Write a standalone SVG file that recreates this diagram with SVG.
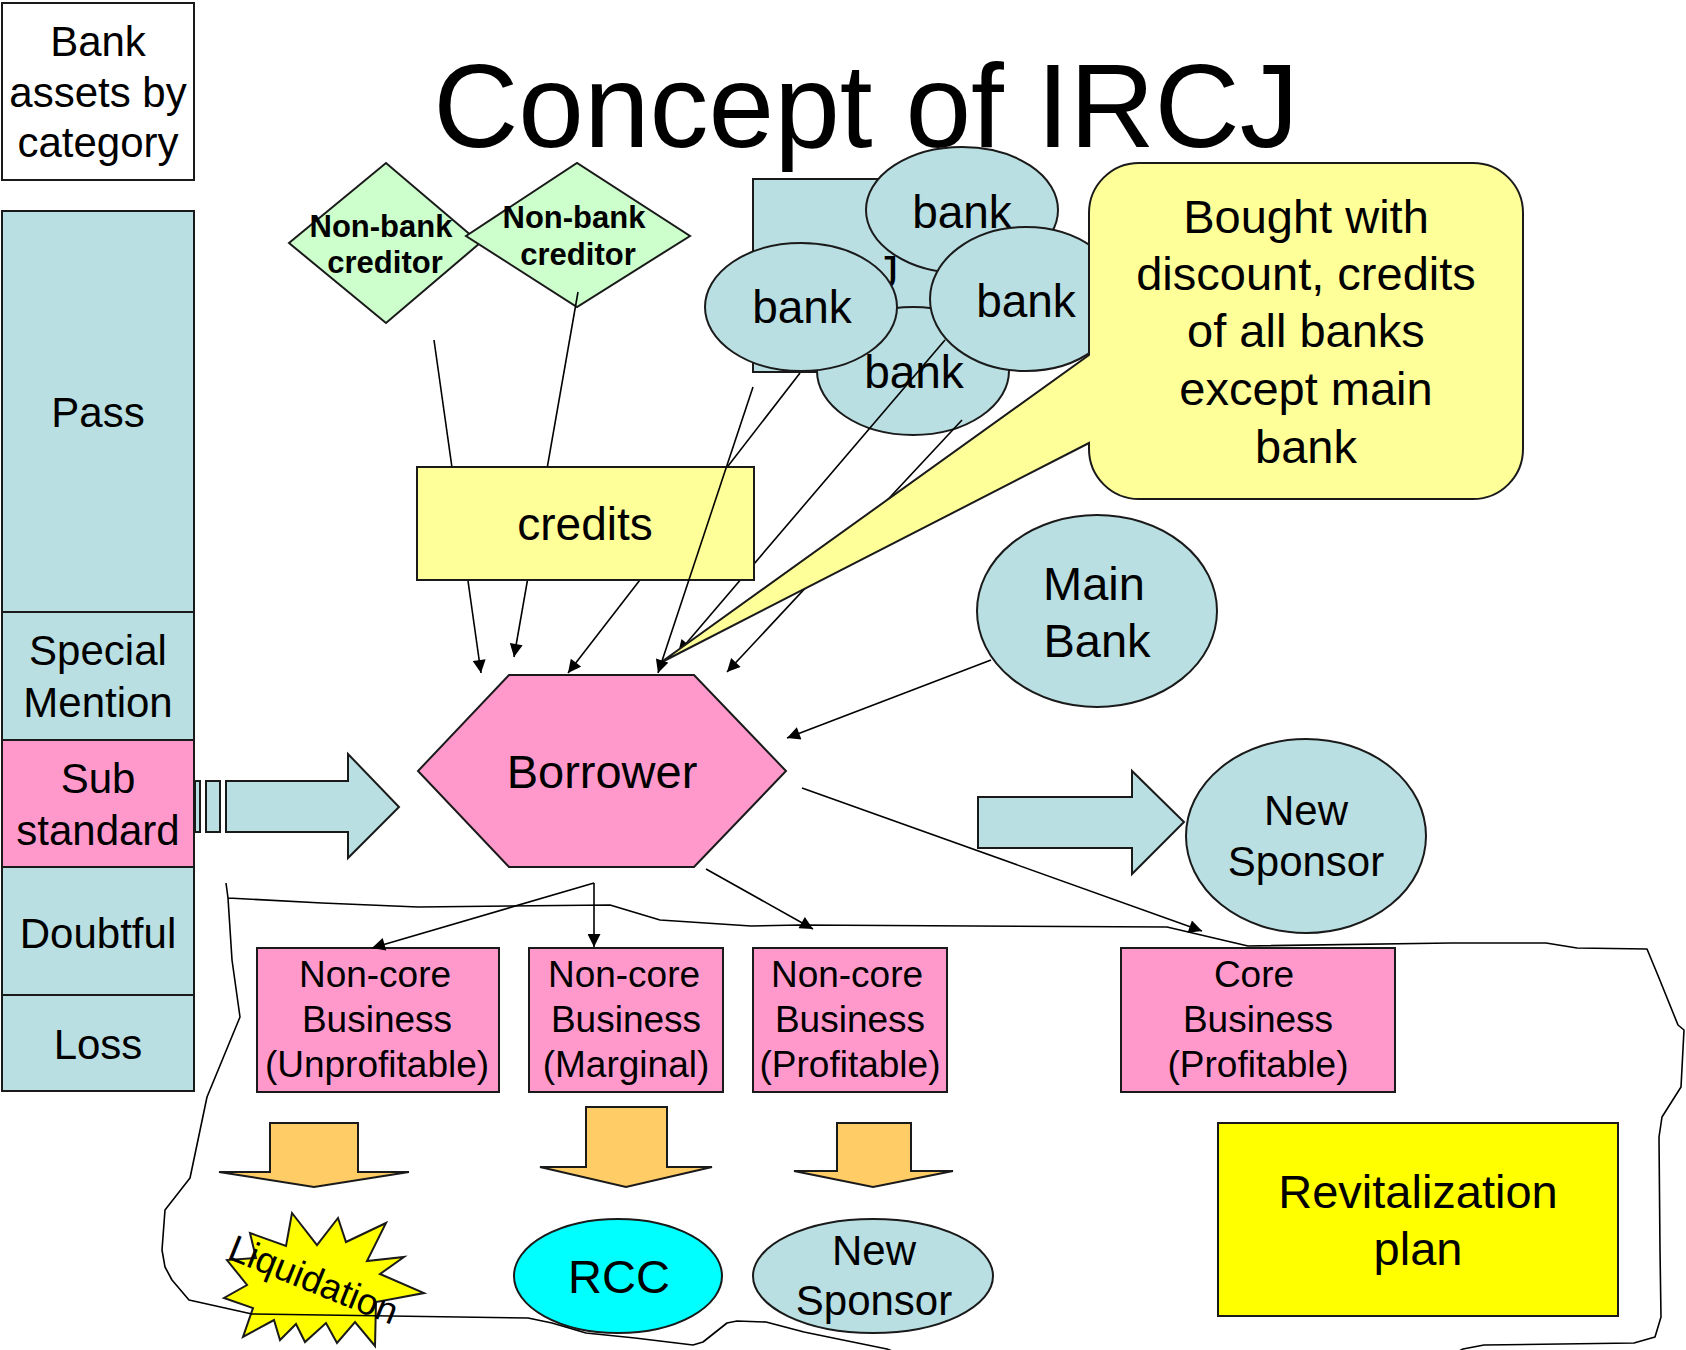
<svg xmlns="http://www.w3.org/2000/svg" width="1686" height="1350" viewBox="0 0 1686 1350">
  <defs>
    <style>
      text { font-family: "Liberation Sans", Arial, sans-serif; fill: #000; text-anchor: middle; }
      .node { stroke: #1a1a1a; stroke-width: 2; }
      .blue { fill: #B9DFE2; }
      .pink { fill: #FF99CC; }
      .cream { fill: #FFFF99; }
      .green { fill: #CCFFCC; }
      .orange { fill: #FFCC66; }
      .yellow { fill: #FFFF00; }
      .cyan { fill: #00FFFF; }
      .white { fill: #FFFFFF; }
      .conn { fill: none; stroke: #000; stroke-width: 1.6; }
      .arr { marker-end: url(#head); }
      .boundary { fill: none; stroke: #000; stroke-width: 1.6; stroke-linejoin: round; }
      .t42 { font-size: 42px; }
      .t46 { font-size: 46px; }
      .t47 { font-size: 47px; }
      .t37 { font-size: 37px; }
      .bold { font-weight: bold; font-size: 31px; }
    </style>
    <marker id="head" viewBox="0 0 10 10" refX="10" refY="5" markerWidth="15" markerHeight="13" markerUnits="userSpaceOnUse" orient="auto">
      <path d="M0,0 L10,5 L0,10 z" fill="#000"/>
    </marker>
  </defs>

  <!-- title -->
  <text id="title" x="866" y="147" style="font-size:118px">Concept of IRCJ</text>

  <!-- asset classification column -->
  <g id="legend">
    <rect class="node white" x="2" y="3" width="192" height="177"/>
    <text class="t42" x="98" y="56">Bank</text>
    <text class="t42" x="98" y="107">assets by</text>
    <text class="t42" x="98" y="157">category</text>
  </g>
  <g id="pass">
    <rect class="node blue" x="2" y="211" width="192" height="401"/>
    <text class="t42" x="98" y="427">Pass</text>
  </g>
  <g id="special-mention">
    <rect class="node blue" x="2" y="612" width="192" height="128"/>
    <text class="t42" x="98" y="665">Special</text>
    <text class="t42" x="98" y="717">Mention</text>
  </g>
  <g id="substandard">
    <rect class="node pink" x="2" y="740" width="192" height="127"/>
    <text class="t42" x="98" y="793">Sub</text>
    <text class="t42" x="98" y="845">standard</text>
  </g>
  <g id="doubtful">
    <rect class="node blue" x="2" y="867" width="192" height="128"/>
    <text class="t42" x="98" y="948">Doubtful</text>
  </g>
  <g id="loss">
    <rect class="node blue" x="2" y="995" width="192" height="96"/>
    <text class="t42" x="98" y="1059">Loss</text>
  </g>

  <!-- striped arrow from Sub standard to Borrower -->
  <g id="transfer-arrow">
    <rect class="node blue" x="195" y="781" width="5" height="51"/>
    <rect class="node blue" x="206" y="781" width="14" height="51"/>
    <polygon class="node blue" points="226,781 348,781 348,754 399,807 348,858 348,832 226,832"/>
  </g>

  <!-- non-bank creditors -->
  <g id="creditor-1">
    <polygon class="node green" points="289,243 386,163 480,243 386,323"/>
    <text class="bold" x="381" y="237">Non-bank</text>
    <text class="bold" x="385" y="273">creditor</text>
  </g>
  <g id="creditor-2">
    <polygon class="node green" points="466,236 577,163 690,236 577,307"/>
    <text class="bold" x="574" y="228">Non-bank</text>
    <text class="bold" x="578" y="265">creditor</text>
  </g>

  <!-- IRCJ block behind the banks -->
  <g id="ircj-block">
    <rect class="node blue" x="753" y="179" width="250" height="193"/>
    <text class="t46" x="887" y="288">J</text>
  </g>

  <!-- banks -->
  <g id="bank-top">
    <ellipse class="node blue" cx="962" cy="210" rx="96" ry="63"/>
    <text class="t46" x="962" y="228">bank</text>
  </g>
  <g id="bank-bottom">
    <ellipse class="node blue" cx="913" cy="371" rx="96" ry="64"/>
    <text class="t46" x="914" y="388">bank</text>
  </g>
  <g id="bank-left">
    <ellipse class="node blue" cx="801" cy="307" rx="96" ry="64"/>
    <text class="t46" x="802" y="323">bank</text>
  </g>
  <g id="bank-right">
    <ellipse class="node blue" cx="1026" cy="299" rx="96" ry="72"/>
    <text class="t46" x="1026" y="317">bank</text>
  </g>

  <!-- claims running beneath the credits box and the callout -->
  <g id="connectors-back">
    <line class="conn arr" x1="434" y1="340" x2="481" y2="673"/>
    <line class="conn arr" x1="578" y1="292" x2="514" y2="657"/>
    <line class="conn arr" x1="800" y1="373" x2="568" y2="673"/>
    <line class="conn arr" x1="945" y1="340" x2="678" y2="653"/>
    <line class="conn arr" x1="962" y1="420" x2="727" y2="672"/>
  </g>

  <g id="credits">
    <rect class="node cream" x="417" y="467" width="337" height="113"/>
    <text class="t46" x="585" y="540">credits</text>
  </g>

  <g id="callout">
    <path class="node cream" d="M1139,163 H1473 A50,50 0 0 1 1523,213 V449 A50,50 0 0 1 1473,499 H1139 A50,50 0 0 1 1089,449 V443 L660,663 L1089,355 V213 A50,50 0 0 1 1139,163 Z"/>
    <text class="t47" x="1306" y="233">Bought with</text>
    <text class="t47" x="1306" y="290">discount, credits</text>
    <text class="t47" x="1306" y="347">of all banks</text>
    <text class="t47" x="1306" y="405">except main</text>
    <text class="t47" x="1306" y="463">bank</text>
  </g>

  <g id="main-bank">
    <ellipse class="node blue" cx="1097" cy="611" rx="120" ry="96"/>
    <text class="t47" x="1094" y="600">Main</text>
    <text class="t47" x="1097" y="657">Bank</text>
  </g>

  <g id="borrower">
    <polygon class="node pink" points="509,675 694,675 786,771 694,867 509,867 418,771"/>
    <text x="602" y="788" style="font-size:47px">Borrower</text>
  </g>

  <g id="sponsor-arrow">
    <polygon class="node blue" points="978,797 1132,797 1132,771 1184,822 1132,874 1132,848 978,848"/>
  </g>
  <g id="new-sponsor">
    <ellipse class="node blue" cx="1306" cy="836" rx="120" ry="97"/>
    <text class="t42" x="1306" y="825">New</text>
    <text class="t42" x="1306" y="876">Sponsor</text>
  </g>

  <!-- business units -->
  <g id="noncore-unprofitable">
    <rect class="node pink" x="257" y="948" width="242" height="144"/>
    <text class="t37" x="375" y="987">Non-core</text>
    <text class="t37" x="377" y="1032">Business</text>
    <text class="t37" x="377" y="1077">(Unprofitable)</text>
  </g>
  <g id="noncore-marginal">
    <rect class="node pink" x="529" y="948" width="194" height="144"/>
    <text class="t37" x="624" y="987">Non-core</text>
    <text class="t37" x="626" y="1032">Business</text>
    <text class="t37" x="626" y="1077">(Marginal)</text>
  </g>
  <g id="noncore-profitable">
    <rect class="node pink" x="753" y="948" width="194" height="144"/>
    <text class="t37" x="847" y="987">Non-core</text>
    <text class="t37" x="850" y="1032">Business</text>
    <text class="t37" x="850" y="1077">(Profitable)</text>
  </g>
  <g id="core-profitable">
    <rect class="node pink" x="1121" y="948" width="274" height="144"/>
    <text class="t37" x="1254" y="987">Core</text>
    <text class="t37" x="1258" y="1032">Business</text>
    <text class="t37" x="1258" y="1077">(Profitable)</text>
  </g>

  <!-- outcome arrows -->
  <g id="down-arrow-1">
    <polygon class="node orange" points="270,1123 358,1123 358,1172 409,1172 314,1187 219,1172 270,1172"/>
  </g>
  <g id="down-arrow-2">
    <polygon class="node orange" points="586,1107 667,1107 667,1167 712,1167 626,1187 540,1167 586,1167"/>
  </g>
  <g id="down-arrow-3">
    <polygon class="node orange" points="837,1123 911,1123 911,1171 953,1171 873,1187 794,1171 837,1171"/>
  </g>

  <g id="liquidation">
    <polygon class="node yellow" points="292,1213 317,1245 338,1218 346,1242 386,1223 367,1261 404,1257 380,1274 424,1293 376,1302 375,1346 355,1322 337,1343 326,1323 305,1342 296,1324 280,1340 274,1320 243,1337 253,1308 224,1298 247,1285 227,1260 256,1258 250,1233 286,1246"/>
  </g>
  <g id="rcc">
    <ellipse class="node cyan" cx="618" cy="1276" rx="104" ry="57"/>
    <text class="t47" x="619" y="1293">RCC</text>
  </g>
  <g id="new-sponsor-2">
    <ellipse class="node blue" cx="873" cy="1276" rx="120" ry="57"/>
    <text class="t42" x="874" y="1265">New</text>
    <text class="t42" x="874" y="1315">Sponsor</text>
  </g>
  <g id="revitalization-plan">
    <rect class="node yellow" x="1218" y="1123" width="400" height="193"/>
    <text class="t47" x="1418" y="1208">Revitalization</text>
    <text class="t47" x="1418" y="1265">plan</text>
  </g>

  <!-- hand-drawn outline of the restructured company -->
  <path id="company-outline" class="boundary" d="M226,883 L228,898 L232,960 L240,1017 L207,1097 L190,1178 L165,1210 L162,1250 L165,1267 L172,1280 L189,1300 L252,1314 L528,1318 L552,1323 L586,1333 L635,1338 L693,1345 L703,1342 L727,1323 L737,1321 L766,1322 L804,1332 L838,1339 L887,1349 L905,1356 L1450,1356 L1463,1349 L1484,1345 L1634,1343 L1655,1337 L1661,1317 L1660,1250 L1659,1137 L1662,1117 L1681,1087 L1684,1030 L1678,1025 L1659,978 L1647,949 L1577,948 L1546,943 L1451,943 L1248,946 L1167,927 L800,925 L751,926 L660,920 L610,905 L418,907 L322,903 L228,898"/>

  <text id="liquidation-label" class="t37" x="0" y="0" style="text-anchor:start" transform="translate(226,1258) rotate(22)">Liquidation</text>

  <!-- connectors drawn over the nodes -->
  <g id="connectors">
    <line class="conn arr" x1="753" y1="387" x2="658" y2="673"/>
    <line class="conn arr" x1="991" y1="660" x2="787" y2="738"/>
    <line class="conn arr" x1="802" y1="788" x2="1202" y2="931"/>
    <line class="conn arr" x1="706" y1="869" x2="813" y2="929"/>
    <polyline class="conn arr" points="594,883 594,947"/>
    <line class="conn arr" x1="594" y1="883" x2="372" y2="948"/>
  </g>
</svg>
